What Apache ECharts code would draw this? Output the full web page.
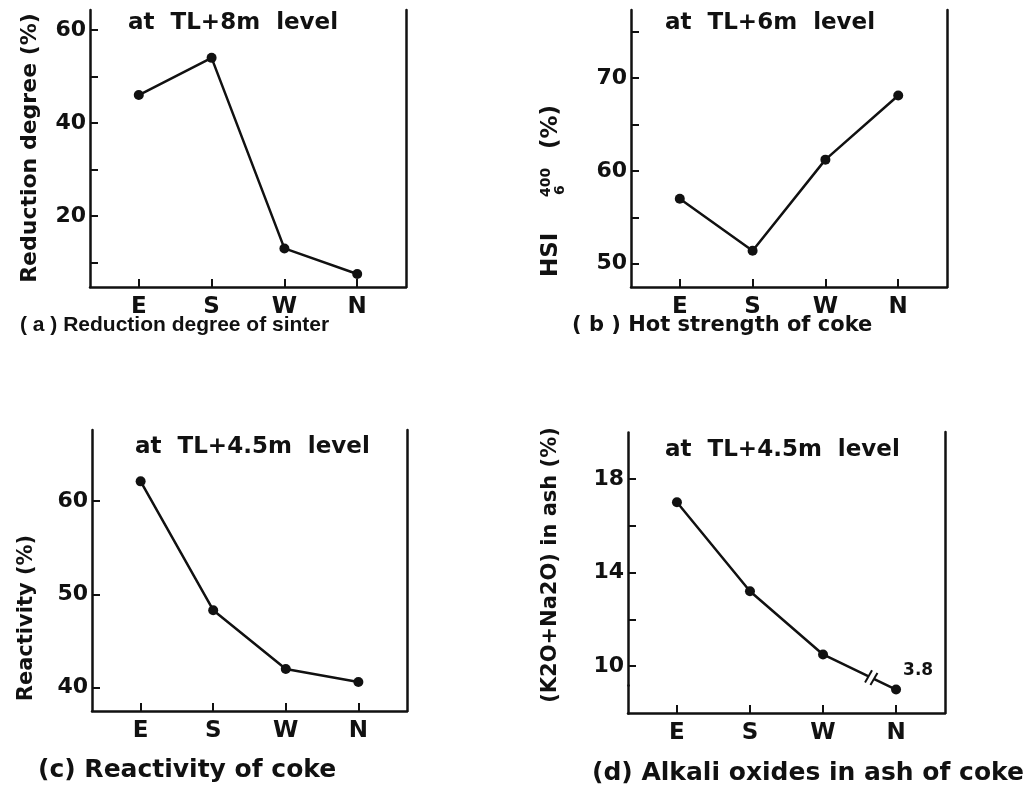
<!DOCTYPE html>
<html>
<head>
<meta charset="utf-8">
<script src="https://cdn.jsdelivr.net/npm/echarts@6/dist/echarts.min.js"></script>
<style>
html, body { margin: 0; padding: 0; background: #fff; }
#chart { width: 1033px; height: 792px; }
</style>
</head>
<body>
<div id="chart"></div>
<script>
// Tuyere directions around the furnace
const directions = ['E', 'S', 'W', 'N'];

// (a) Reduction degree of sinter at TL+8m (%)
const reductionDegree = [46, 54, 13, 7.5];
// (b) Hot strength of coke HSI 400/6 at TL+6m (%)
const hotStrength = [57, 51.4, 61.2, 68.1];
// (c) Reactivity of coke at TL+4.5m (%)
const reactivity = [62.1, 48.3, 42.0, 40.6];
// (d) (K2O+Na2O) in ash of coke at TL+4.5m (%), N is below the axis break
const alkaliOxides = [17.0, 13.2, 10.5, 3.8];

// Tick marks and tick labels of the value axes
const ticksA = [10, 20, 30, 40, 50, 60];
const labelsA = [20, 40, 60];
const ticksB = [50, 55, 60, 65, 70, 75];
const labelsB = [50, 60, 70];
const ticksC = [40, 50, 60];
const labelsC = [40, 50, 60];
const ticksD = [10, 12, 14, 16, 18];
const labelsD = [10, 14, 18];

const FONT = 'DejaVu Sans';
const INK = '#111';

const chart = echarts.init(document.getElementById('chart'), null, { renderer: 'canvas' });

const grids = [
  { left: 90, top: 10, width: 316, height: 277 },
  { left: 631, top: 10, width: 316, height: 277 },
  { left: 92, top: 430, width: 315, height: 281 },
  { left: 628, top: 432, width: 317, height: 281 }
].map(g => Object.assign({ outerBoundsMode: 'none', containLabel: false }, g));

function xAxis(gridIndex) {
  return {
    type: 'value', gridIndex: gridIndex, min: -0.67, max: 3.67,
    axisLine: { show: true, onZero: false, lineStyle: { color: INK, width: 2.5 } },
    axisTick: { show: true, inside: true, length: 8, customValues: [0, 1, 2, 3],
      lineStyle: { color: INK, width: 2 } },
    axisLabel: { show: true, customValues: [0, 1, 2, 3], margin: 9,
      formatter: v => directions[Math.round(v)],
      color: INK, fontFamily: FONT, fontWeight: 'bold', fontSize: 23 },
    splitLine: { show: false }
  };
}

function yAxis(gridIndex, min, max, ticks, labels, extra) {
  return Object.assign({
    type: 'value', gridIndex: gridIndex, min: min, max: max,
    axisLine: { show: true, onZero: false, lineStyle: { color: INK, width: 2.5 } },
    axisTick: { show: true, inside: true, length: 8, customValues: ticks,
      lineStyle: { color: INK, width: 2 } },
    axisLabel: { show: true, customValues: labels, margin: 4,
      color: INK, fontFamily: FONT, fontWeight: 'bold', fontSize: 22 },
    splitLine: { show: false }
  }, extra || {});
}

function frameAxis(gridIndex) {
  return {
    type: 'value', gridIndex: gridIndex, position: 'right', min: 0, max: 1,
    axisLine: { show: true, onZero: false, lineStyle: { color: INK, width: 2.5 } },
    axisTick: { show: false }, axisLabel: { show: false }, splitLine: { show: false }
  };
}

function lineSeries(idx, values) {
  return {
    type: 'line', xAxisIndex: idx, yAxisIndex: idx * 2,
    data: values.map((v, i) => [i, v]),
    symbol: 'circle', symbolSize: 10, silent: true, animation: false,
    lineStyle: { color: INK, width: 2.5 },
    itemStyle: { color: INK }
  };
}

const titleStyle = { color: INK, fontFamily: FONT, fontWeight: 'bold', fontSize: 23, lineHeight: 23 };
function title(text, left, top, style) {
  return { text: text, left: left, top: top, padding: 0, textStyle: Object.assign({}, titleStyle, style || {}) };
}

const seriesD = lineSeries(3, alkaliOxides);
seriesD.data[3] = {
  value: [3, alkaliOxides[3]],
  label: { show: true, position: 'right', distance: 2, offset: [0, -19],
    formatter: p => String(p.value[1]),
    color: INK, fontFamily: FONT, fontWeight: 'bold', fontSize: 17 }
};

const option = {
  backgroundColor: '#fff',
  animation: false,
  grid: grids,
  title: [
    title('at  TL+8m  level', 128, 12),
    title('at  TL+6m  level', 665, 12),
    title('at  TL+4.5m  level', 135, 436),
    title('at  TL+4.5m  level', 665, 439),
    title('( a ) Reduction degree of sinter', 20, 315, { fontFamily: 'Liberation Sans', fontSize: 21, lineHeight: 21 }),
    title('( b ) Hot strength of coke', 572, 315, { fontSize: 21, lineHeight: 21 }),
    title('(c) Reactivity of coke', 38, 758, { fontSize: 25, lineHeight: 25 }),
    title('(d) Alkali oxides in ash of coke', 592, 761, { fontSize: 25, lineHeight: 25 })
  ],
  xAxis: [xAxis(0), xAxis(1), xAxis(2), xAxis(3)],
  yAxis: [
    yAxis(0, 4.7, 64.3, ticksA, labelsA), frameAxis(0),
    yAxis(1, 47.5, 77.3, ticksB, labelsB), frameAxis(1),
    yAxis(2, 37.5, 67.6, ticksC, labelsC), frameAxis(2),
    yAxis(3, 2.8, 20, ticksD, labelsD, {
      breaks: [{ start: 4, end: 9.2, gap: 0 }],
      breakArea: { show: false }
    }), frameAxis(3)
  ],
  series: [
    lineSeries(0, reductionDegree),
    lineSeries(1, hotStrength),
    lineSeries(2, reactivity),
    seriesD
  ]
};

chart.setOption(option);

// Axis names drawn as rotated text, plus the break mark on the (d) curve
function vText(text, x, y, size) {
  return { type: 'text', x: x, y: y, rotation: Math.PI / 2, z: 50,
    style: { text: text, fill: INK, font: 'bold ' + size + 'px "' + FONT + '"',
      align: 'center', verticalAlign: 'middle', textAlign: 'center', textVerticalAlign: 'middle' } };
}
function hText(text, x, y, size) {
  return { type: 'text', x: x, y: y,
    style: { text: text, fill: INK, font: 'bold ' + size + 'px "' + FONT + '"',
      align: 'left', verticalAlign: 'middle', textAlign: 'left', textVerticalAlign: 'middle' } };
}

const pW = chart.convertToPixel({ seriesIndex: 3 }, [2, alkaliOxides[2]]);
const pN = chart.convertToPixel({ seriesIndex: 3 }, [3, alkaliOxides[3]]);
const t = 0.66;
const mx = pW[0] + (pN[0] - pW[0]) * t;
const my = pW[1] + (pN[1] - pW[1]) * t;
const len = Math.hypot(pN[0] - pW[0], pN[1] - pW[1]);
const ux = (pN[0] - pW[0]) / len, uy = (pN[1] - pW[1]) / len;
const sx = Math.cos(Math.PI / 3) * 7, sy = -Math.sin(Math.PI / 3) * 7;
const stroke = (c) => ({ type: 'line', z: 60,
  shape: { x1: mx + ux * c - sx, y1: my + uy * c - sy, x2: mx + ux * c + sx, y2: my + uy * c + sy },
  style: { stroke: INK, lineWidth: 2 } });

chart.setOption({
  graphic: [
    vText('Reduction degree (%)', 30, 148, 22),
    vText('Reactivity (%)', 27, 618, 21),
    vText('(K2O+Na2O) in ash (%)', 551, 565, 21),
    { type: 'group', x: 551, y: 277, rotation: Math.PI / 2, z: 50, children: [
      hText('HSI', 0, 0, 23),
      hText('400', 80, -5, 14),
      hText('6', 82, 9, 14),
      hText('(%)', 128, 0, 23)
    ] },
    { type: 'line', z: 55,
      shape: { x1: mx - ux * 3, y1: my - uy * 3, x2: mx + ux * 3, y2: my + uy * 3 },
      style: { stroke: '#fff', lineWidth: 6 } },
    stroke(-3), stroke(3)
  ]
});
</script>
</body>
</html>
